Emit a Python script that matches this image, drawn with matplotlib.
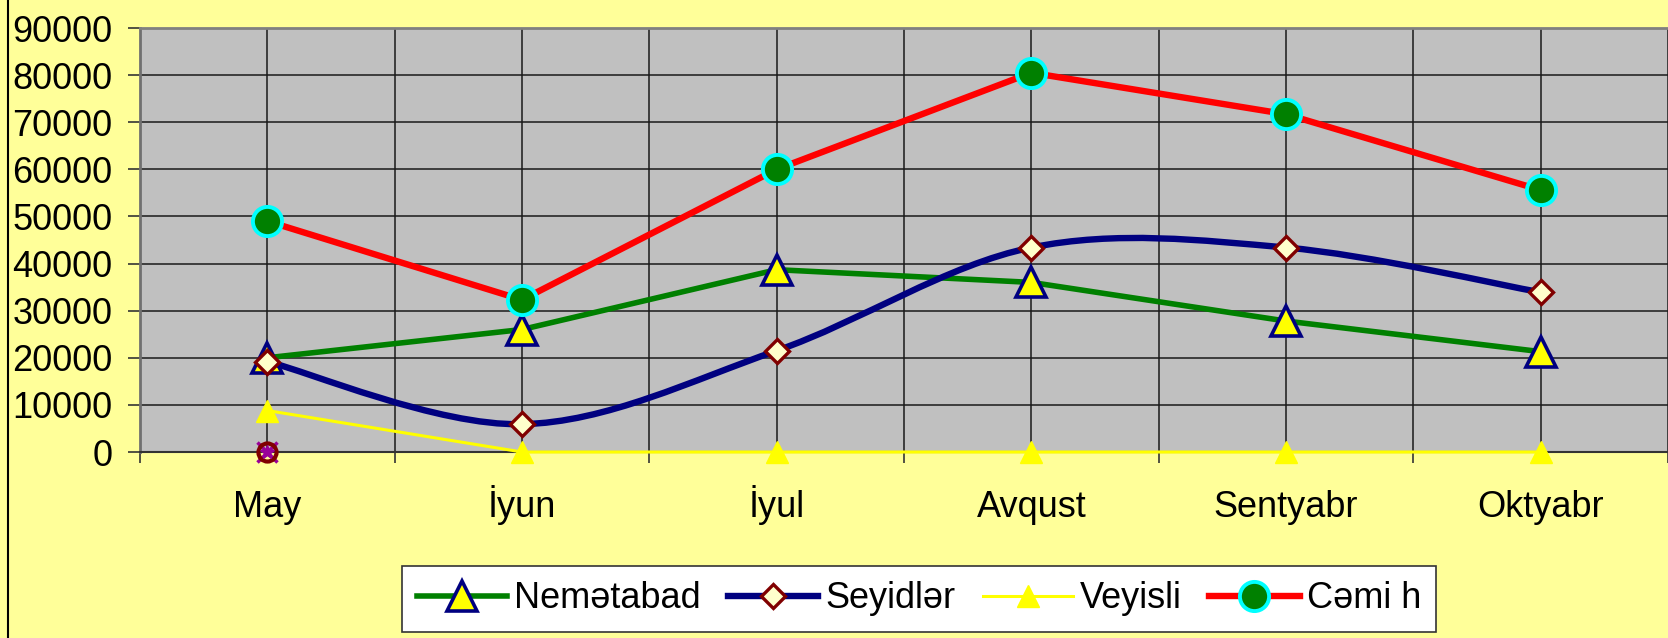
"""Aylar üzrə xətt qrafiki (Excel üslubu)."""

import matplotlib

matplotlib.use("Agg")
import matplotlib.pyplot as plt
from matplotlib.lines import Line2D
from matplotlib.patches import PathPatch
from matplotlib.path import Path

months = ["May", "İyun", "İyul", "Avqust", "Sentyabr", "Oktyabr"]
nematabad = [20000, 26000, 38700, 36000, 27800, 21300]
seyidler = [19200, 5900, 21500, 43400, 43400, 33900]
veyisli = [8800, 0, 0, 0, 0, 0]
cemi = [49000, 32300, 60000, 80500, 71700, 55600]
# May ayında 0-da görünən əlavə nöqtə (legendada yoxdur)
extra_month = ["May"]
extra_vals = [0]
yticks = list(range(0, 90001, 10000))

BG = "#FFFF99"
PLOT_BG = "#C0C0C0"
FS = 26

plt.rcParams["font.family"] = ["Liberation Sans", "DejaVu Sans"]


def smooth_path(xs, ys):
    """Excel-in 'smoothed line' üslubunda Bezier yolu."""
    pts = list(zip(xs, ys))
    n = len(pts)
    verts = [pts[0]]
    codes = [Path.MOVETO]
    for i in range(n - 1):
        p0 = pts[i - 1] if i > 0 else pts[i]
        p1 = pts[i]
        p2 = pts[i + 1]
        p3 = pts[i + 2] if i + 2 < n else pts[i + 1]
        c1 = (p1[0] + (p2[0] - p0[0]) / 6, p1[1] + (p2[1] - p0[1]) / 6)
        c2 = (p2[0] - (p3[0] - p1[0]) / 6, p2[1] - (p3[1] - p1[1]) / 6)
        verts += [c1, c2, p2]
        codes += [Path.CURVE4] * 3
    return Path(verts, codes)


def main() -> int:
    W, H = 1668, 638
    fig = plt.figure(figsize=(W / 100, H / 100), dpi=100, facecolor=BG)
    left, top, bottom = 140, 28, 452
    ax = fig.add_axes([left / W, 1 - bottom / H, (W - left) / W, (bottom - top) / H])
    ax.set_facecolor(PLOT_BG)

    x = list(range(len(months)))
    ax.set_xlim(-0.5, 5.45)
    ax.set_ylim(0, 90000)

    # gridlər
    ax.set_yticks(yticks)
    ax.set_yticklabels([str(v) for v in yticks], fontsize=FS)
    ax.set_xticks(x)
    ax.set_xticklabels(months, fontsize=FS, va="baseline")
    ax.set_xticks([i - 0.5 for i in range(len(months) + 1)], minor=True)
    ax.grid(axis="y", which="major", color="#1a1a1a", lw=1.1)
    ax.grid(axis="x", which="both", color="#1a1a1a", lw=1.1)
    ax.set_axisbelow(True)
    ax.tick_params(axis="y", direction="out", length=9, width=1.2, pad=11, color="#333333")
    ax.tick_params(axis="x", which="major", length=0, pad=47)
    ax.tick_params(axis="x", which="minor", direction="out", length=8, width=1.2, color="#333333")
    ax.spines["right"].set_visible(False)
    ax.spines["top"].set_color("#808080")
    ax.spines["top"].set_linewidth(2)
    ax.spines["left"].set_color("#707070")
    ax.spines["left"].set_linewidth(2)
    ax.spines["bottom"].set_color("#333333")
    ax.spines["bottom"].set_linewidth(1.5)

    # Nemətabad
    tri = dict(marker="^", ms=22, mfc="#FFFF00", mec="#000080", mew=2.6)
    ax.plot(x, nematabad, color="#008000", lw=4, zorder=3, clip_on=False)
    ax.plot(x, nematabad, ls="none", zorder=4, clip_on=False, **tri)
    h1 = Line2D([], [], color="#008000", lw=4, **tri)

    # Seyidlər (hamar xətt)
    patch = PathPatch(smooth_path(x, seyidler), fill=False, edgecolor="#000080", lw=4.6,
                      zorder=5, clip_on=False, capstyle="round", joinstyle="round")
    ax.add_patch(patch)
    dia = dict(marker="D", ms=12, mfc="#FFFFCC", mec="#800000", mew=2.4)
    ax.plot(x, seyidler, ls="none", zorder=6, clip_on=False, **dia)
    h2 = Line2D([], [], color="#000080", lw=4.6, **dia)

    # Veyisli
    ytri = dict(marker="^", ms=16, mfc="#FFFF00", mec="#FFFF00")
    ax.plot(x, veyisli, color="#FFFF00", lw=2.2, zorder=6, clip_on=False, **ytri)
    h3 = Line2D([], [], color="#FFFF00", lw=2.2, **ytri)

    # əlavə nöqtə
    ex = [months.index(m) for m in extra_month]
    ax.plot(ex, extra_vals, ls="none", marker="x", ms=15, mew=2.5, color="#990099",
            zorder=7, clip_on=False)
    ax.plot(ex, extra_vals, ls="none", marker="o", ms=13, mfc="none", mec="#800000",
            mew=3, zorder=7, clip_on=False)
    ax.plot(ex, extra_vals, ls="none", marker="*", ms=10, color="#990099",
            zorder=7, clip_on=False)

    # Cəmi h
    circ = dict(marker="o", ms=21, mfc="#008000", mec="#00FFFF", mew=2.8)
    ax.plot(x, cemi, color="#FF0000", lw=4.6, zorder=8, clip_on=False)
    ax.plot(x, cemi, ls="none", zorder=9, clip_on=False, **circ)
    h4 = Line2D([], [], color="#FF0000", lw=4.6, **circ)

    leg = fig.legend([h1, h2, h3, h4], ["Nemətabad", "Seyidlər", "Veyisli", "Cəmi h"],
                     loc="center", bbox_to_anchor=(919 / W, 1 - 599 / H), ncol=4,
                     fontsize=FS, frameon=True, fancybox=False, handlelength=2.5,
                     handletextpad=0.2, columnspacing=0.75, borderpad=0.42,
                     borderaxespad=0)
    leg.get_frame().set_edgecolor("#333333")
    leg.get_frame().set_linewidth(1.2)
    leg.get_frame().set_facecolor("white")
    leg.get_frame().set_alpha(1)

    fig.add_artist(Line2D([8 / W, 8 / W], [0, 1], transform=fig.transFigure,
                          color="black", lw=1.5))

    fig.savefig("out.png", dpi=100, facecolor=BG)
    plt.close(fig)
    return 0


if __name__ == "__main__":
    raise SystemExit(main())
